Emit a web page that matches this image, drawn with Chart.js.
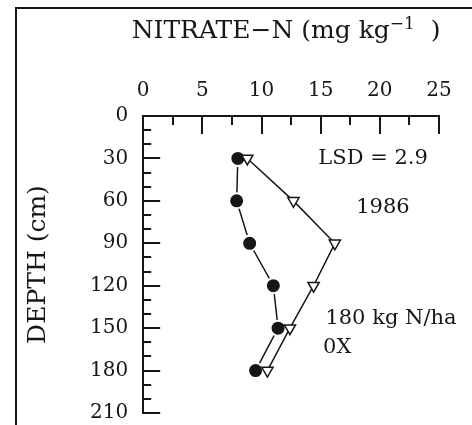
<!DOCTYPE html>
<html>
<head>
<meta charset="utf-8">
<script src="https://cdn.jsdelivr.net/npm/chart.js@4/dist/chart.umd.min.js"></script>
<style>
  html, body { margin: 0; padding: 0; background: #fff; }
  #wrap { width: 472px; height: 425px; position: relative; }
</style>
</head>
<body>
<div id="wrap"><canvas id="nitrateChart"></canvas></div>
<script>
// depth of each sample (cm) and nitrate-N
const depths = [30, 60, 90, 120, 150, 180];
const nitrateCircles = [8.0, 7.9, 9.0, 11.0, 11.4, 9.5];
const nitrateTriangles = [8.8, 12.7, 16.2, 14.4, 12.4, 10.5];

const xTickLabels = [0, 5, 10, 15, 20, 25];
const yTickLabels = [0, 30, 60, 90, 120, 150, 180, 210];

const noteTexts = ['LSD = 2.9', '1986', '180 kg N/ha', '0X'];

const FONT = '"DejaVu Serif", "Liberation Serif", serif';
const INK = '#161616';

function toPoints(values) {
    return values.map((v, i) => ({ x: v, y: depths[i] }));
}

// frame, inward ticks, title and the notes
const decorations = {
    id: 'decorations',
    beforeDraw(chart) {
        const ctx = chart.ctx;
        ctx.save();
        ctx.strokeStyle = INK;
        ctx.lineWidth = 2;
        ctx.beginPath();
        ctx.moveTo(16, chart.height);
        ctx.lineTo(16, 8);
        ctx.lineTo(chart.width, 8);
        ctx.stroke();
        ctx.restore();
    },
    afterDraw(chart) {
        const { ctx, chartArea } = chart;
        const x = chart.scales.x;
        const y = chart.scales.y;
        ctx.save();
        ctx.strokeStyle = INK;
        ctx.lineWidth = 2;
        ctx.beginPath();
        for (let v = 0; v <= 210; v += 10) {
            const py = Math.round(y.getPixelForValue(v));
            ctx.moveTo(chartArea.left, py);
            ctx.lineTo(chartArea.left + (v % 30 === 0 ? 17 : 8), py);
        }
        for (let v = 2.5; v <= 25; v += 2.5) {
            const px = Math.round(x.getPixelForValue(v));
            ctx.moveTo(px, chartArea.top);
            ctx.lineTo(px, chartArea.top + (v % 5 === 0 ? 18 : 9));
        }
        ctx.stroke();

        // axis title with superscript
        ctx.fillStyle = INK;
        ctx.textBaseline = 'alphabetic';
        const mainFont = '25px ' + FONT;
        const supFont = '17px ' + FONT;
        const parts = [
            { t: 'NITRATE\u2212N (mg kg', f: mainFont, dy: 0 },
            { t: '\u22121', f: supFont, dy: -9 },
            { t: '  )', f: mainFont, dy: 0 }
        ];
        let total = 0;
        parts.forEach(p => { ctx.font = p.f; p.w = ctx.measureText(p.t).width; total += p.w; });
        let cx = (chartArea.left + chartArea.right) / 2 - 5 - total / 2;
        parts.forEach(p => {
            ctx.font = p.f;
            ctx.fillText(p.t, cx, 38 + p.dy);
            cx += p.w;
        });

        // notes placed in data coordinates
        ctx.font = '21px ' + FONT;
        ctx.textAlign = 'left';
        ctx.textBaseline = 'middle';
        const spots = [[14.8, 30], [18.0, 65], [15.4, 143], [15.2, 164]];
        noteTexts.forEach((t, i) => {
            ctx.fillText(t, x.getPixelForValue(spots[i][0]), y.getPixelForValue(spots[i][1]));
        });
        ctx.restore();
    }
};

new Chart(document.getElementById('nitrateChart'), {
    type: 'scatter',
    data: {
        datasets: [
            {
                data: toPoints(nitrateTriangles),
                showLine: true,
                borderColor: INK,
                borderWidth: 1.5,
                pointStyle: 'triangle',
                rotation: 180,
                pointRadius: 6.5,
                pointBackgroundColor: '#fff',
                pointBorderColor: INK,
                pointBorderWidth: 1.5
            },
            {
                data: toPoints(nitrateCircles),
                showLine: true,
                borderColor: INK,
                borderWidth: 1.5,
                pointStyle: 'circle',
                pointRadius: 7.5,
                pointBackgroundColor: INK,
                pointBorderColor: '#fff',
                pointBorderWidth: 2
            }
        ]
    },
    options: {
        responsive: true,
        maintainAspectRatio: false,
        animation: false,
        layout: { padding: { left: 23, top: 79, right: 33, bottom: 12 } },
        plugins: {
            legend: { display: false },
            tooltip: { enabled: false }
        },
        scales: {
            x: {
                position: 'top',
                min: 0,
                max: 25,
                grid: { display: false, drawTicks: true, tickLength: 13 },
                border: { display: true, color: INK, width: 2 },
                afterBuildTicks: s => { s.ticks = xTickLabels.map(v => ({ value: v })); },
                ticks: {
                    color: INK,
                    padding: 0,
                    font: { family: FONT, size: 20 }
                }
            },
            y: {
                reverse: true,
                min: 0,
                max: 210,
                grid: { display: false, drawTicks: true, tickLength: 15 },
                border: { display: true, color: INK, width: 2 },
                afterBuildTicks: s => { s.ticks = yTickLabels.map(v => ({ value: v })); },
                ticks: {
                    color: INK,
                    padding: 0,
                    font: { family: FONT, size: 20 }
                },
                title: {
                    display: true,
                    text: 'DEPTH (cm)',
                    color: INK,
                    font: { family: FONT, size: 25 },
                    padding: { top: 0, bottom: 37 }
                }
            }
        }
    },
    plugins: [decorations]
});
</script>
</body>
</html>
